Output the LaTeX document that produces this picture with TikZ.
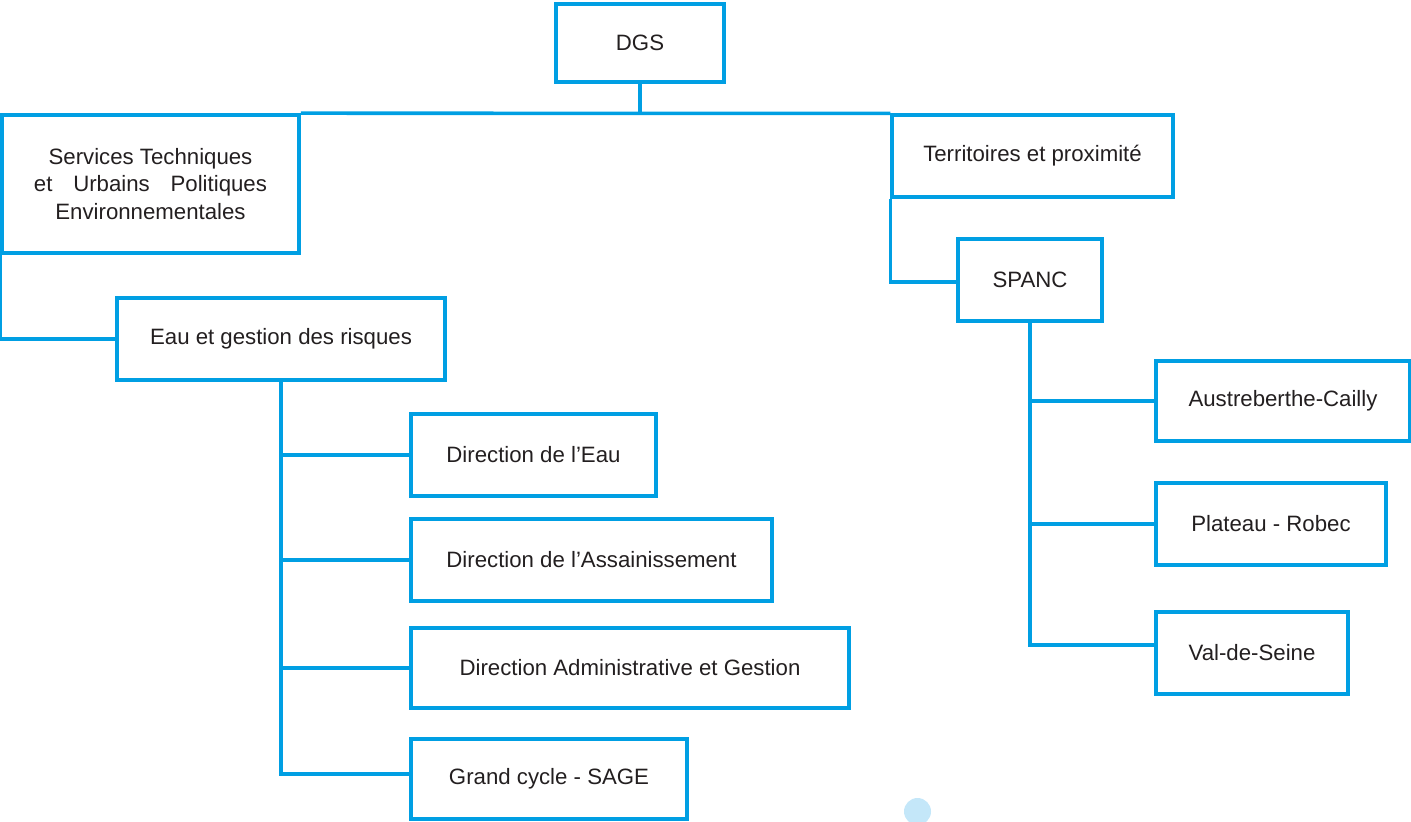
\documentclass[tikz,border=0pt]{standalone}
\usepackage{fontspec}
\setmainfont{Liberation Sans}
\definecolor{orgblue}{HTML}{009FE3}
\definecolor{txtgrey}{HTML}{231F20}
\definecolor{dotblue}{HTML}{C4E7F9}
\begin{document}
\begin{tikzpicture}[x=1bp,y=-1bp,
  box/.style={draw=orgblue,line width=3.5bp,fill=white,inner sep=0pt,text=txtgrey,
    font=\fontsize{22.3}{28}\selectfont,align=center},
  link/.style={draw=orgblue,line width=3.5bp}]
\useasboundingbox (0,0) rectangle (1411,821);
% boxes
\node[box,minimum width=168bp,minimum height=78bp] (DGS) at (640,43) {DGS};
\node[box,minimum width=297bp,minimum height=138bp] (Services) at (150.5,184)
  {Services Techniques\\\makebox[233bp][s]{et\hfill Urbains\hfill Politiques}\\Environnementales};
\node[box,minimum width=281bp,minimum height=82bp] (Terr) at (1032.5,156) {Territoires et proximité};
\node[box,minimum width=144bp,minimum height=82bp] (SPANC) at (1030,280) {SPANC};
\node[box,minimum width=328bp,minimum height=82bp] (Eau) at (281,339) {Eau et gestion des risques};
\node[box,minimum width=245bp,minimum height=82bp] (DirEau) at (533.5,455) {Direction de l’Eau};
\node[box,minimum width=361bp,minimum height=82bp] (Assain) at (591.5,560) {Direction de l’Assainissement};
\node[box,minimum width=438bp,minimum height=80bp] (Admin) at (630,668) {Direction Administrative et Gestion};
\node[box,minimum width=276bp,minimum height=80bp] (Grand) at (549,779) {Grand cycle - SAGE};
\node[box,minimum width=254bp,minimum height=80bp] (Austre) at (1283,401) {Austreberthe-Cailly};
\node[box,minimum width=230bp,minimum height=82bp] (Plateau) at (1271,524) {Plateau - Robec};
\node[box,minimum width=192bp,minimum height=82bp] (Val) at (1252,653) {Val-de-Seine};
% connectors
\draw[link] (DGS.south) -- (DGS.south |- Services.north);
\draw[link] (Services.north east) -- (Terr.north west);
\draw[link] (Services.south west) |- (Eau.west);
\draw[link] (Terr.south west) |- ([yshift=-2bp]SPANC.west);
\draw[link] (Eau.south) |- ([yshift=5bp]Grand.west);
\draw[link] (Eau.south |- DirEau.west) -- (DirEau.west);
\draw[link] (Eau.south |- Assain.west) -- (Assain.west);
\draw[link] (Eau.south |- Admin.west) -- (Admin.west);
\draw[link] (SPANC.south) |- ([yshift=8bp]Val.west);
\draw[link] (SPANC.south |- Austre.west) -- (Austre.west);
\draw[link] (SPANC.south |- Plateau.west) -- (Plateau.west);
% decorative dot
\fill[dotblue] (917.5,811.5) circle (13.5);
\end{tikzpicture}
\end{document}
